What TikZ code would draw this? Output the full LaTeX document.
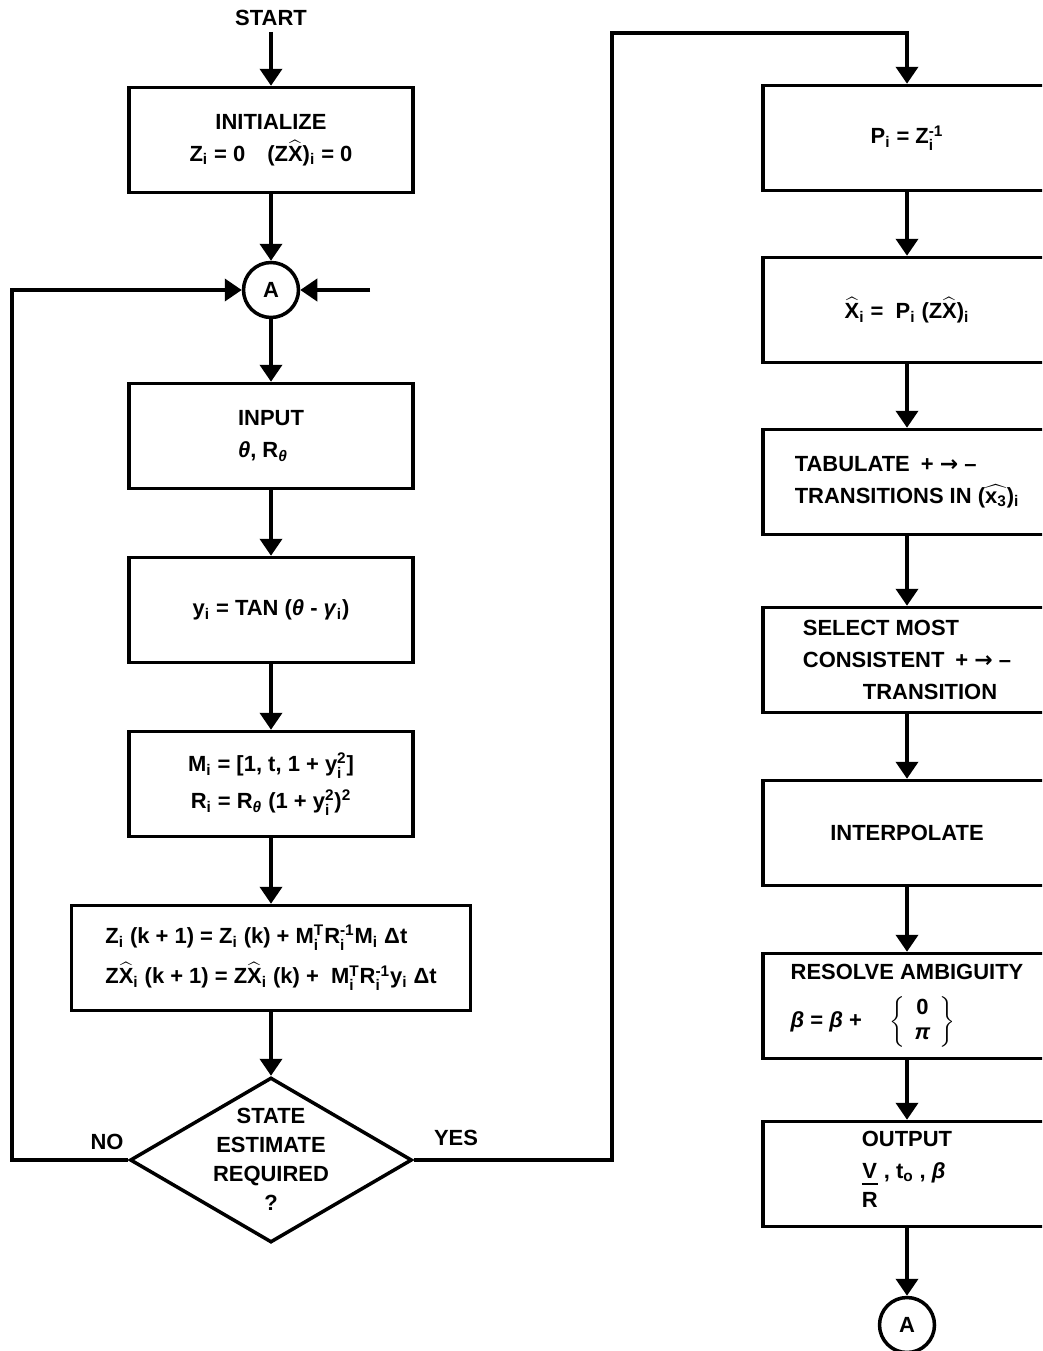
\documentclass[tikz,border=0pt]{standalone}
\usepackage{amsmath}
\usepackage{fontspec}
\setmainfont{Liberation Sans}
\newfontfamily\symfont{DejaVu Sans}
\usetikzlibrary{arrows.meta, shapes.geometric}

\newcommand{\tx}[1]{\text{#1}}
\newcommand{\flowfont}{\fontsize{12.5}{18}\selectfont\bfseries}
\newcommand{\ra}{{\symfont\bfseries →}}
\setlength{\arrayrulewidth}{1.3pt}

\tikzset{
  box/.style={draw, line width=2pt, minimum width=5.68cm, minimum height=2.1cm, inner sep=2pt, align=center, font=\flowfont},
  rbox/.style={box, minimum width=5.76cm, align=left},
  conn/.style={circle, draw, line width=2pt, minimum size=1.1cm, inner sep=0pt, font=\flowfont},
  decision/.style={diamond, draw, line width=2pt, minimum width=5.64cm, minimum height=3.3cm, inner sep=0pt},
  lbl/.style={font=\flowfont, align=center},
  arr/.style={line width=2.2pt, -{Triangle[length=3.4mm, width=4.4mm]}}
}

\begin{document}
\begin{tikzpicture}[x=0.02cm, y=-0.02cm]
    \useasboundingbox (0,0) rectangle (1042,1351);
    \clip (0,0) rectangle (1042,1351);

    % Left column
    \node[lbl] (start) at (271,18) {START};
    \node[box] (init) at (271,140) {INITIALIZE\\ Z$_\tx{i}$ = 0\quad (Z$\widehat{\tx{X}}$)$_\tx{i}$ = 0};
    \node[conn] (A1) at (271,290) {A};
    \node[box, align=left] (input) at (271,436) {INPUT\\ \textit{θ}, R$_\tx{\textit{θ}}$};
    \node[box] (tan) at (271,610) {y$_\tx{i}$ = TAN (\textit{θ} - \textit{γ}$_\tx{i}$)};
    \node[box] (meas) at (271,784) {M$_\tx{i}$ = [1, t, 1 + y$_\tx{i}^\tx{2}$]\\[3pt] R$_\tx{i}$ = R$_\tx{\textit{θ}}$ (1 + y$_\tx{i}^\tx{2}$)$^\tx{2}$};
    \node[box, minimum width=7.98cm, align=left] (upd) at (271,958) {Z$_\tx{i}$ (k + 1) = Z$_\tx{i}$ (k) + M$_\tx{i}^\tx{T}$R$_\tx{i}^\tx{-1}$M$_\tx{i}$ Δt\\[5pt] Z$\widehat{\tx{X}}_\tx{i}$ (k + 1) = Z$\widehat{\tx{X}}_\tx{i}$ (k) + \ M$_\tx{i}^\tx{T}$R$_\tx{i}^\tx{-1}$y$_\tx{i}$ Δt};

    % Decision
    \node[decision] (dec) at (271,1160) {};
    \node[lbl, font=\fontsize{12.5}{16.5}\selectfont\bfseries] (dectxt) at (271,1159) {STATE\\ ESTIMATE\\ REQUIRED\\ ?};
    \node[lbl] (no) at (107,1142) {NO};
    \node[lbl] (yes) at (456,1138) {YES};

    % Loop corners
    \coordinate (nocorner) at (12,1160);
    \coordinate (ain) at (370,290);
    \coordinate (yestop) at (612,33);

    % Right column
    \node[rbox, align=center] (pinv) at (907,138) {P$_\tx{i}$ = Z$_\tx{i}^\tx{-1}$};
    \node[rbox, align=center] (xhat) at (907,310) {$\widehat{\tx{X}}_\tx{i}$ = \ P$_\tx{i}$ (Z$\widehat{\tx{X}}$)$_\tx{i}$};
    \node[rbox] (tab) at (907,482) {TABULATE\enspace + \ra\ –\\ TRANSITIONS IN ($\widehat{\tx{x}_\tx{3}}$)$_\tx{i}$};
    \node[rbox] (sel) at (907,660) {SELECT MOST\\ CONSISTENT\enspace + \ra\ –\\ \hspace*{1.2cm}TRANSITION};
    \node[rbox, align=center] (interp) at (907,833) {INTERPOLATE};
    \node[rbox] (res) at (907,1006) {RESOLVE AMBIGUITY\\[9pt] \textit{β} = \textit{β} + \quad $\renewcommand{\arraystretch}{0.8}\left\{\begin{array}{c}\tx{0}\\ \tx{\textit{π}}\end{array}\right\}$};
    \node[rbox] (out) at (907,1174) {OUTPUT\\ \begin{tabular}[t]{@{}c@{}}V\\[-3pt]\hline\rule{0pt}{12pt}R\end{tabular} , t$_\tx{o}$ , \textit{β}};
    \node[conn] (A2) at (907,1325) {A};

    % Left connectors
    \draw[arr] (start) -- (init);
    \draw[arr] (init) -- (A1);
    \draw[arr] (A1) -- (input);
    \draw[arr] (input) -- (tan);
    \draw[arr] (tan) -- (meas);
    \draw[arr] (meas) -- (upd);
    \draw[arr] (upd) -- (dec);
    \draw[arr] (dec.west) -- (nocorner) |- (A1);
    \draw[arr] (ain) -- (A1);

    % YES branch to right column
    \draw[arr] (dec.east) -| (yestop) -| (pinv);
    \draw[arr] (pinv) -- (xhat);
    \draw[arr] (xhat) -- (tab);
    \draw[arr] (tab) -- (sel);
    \draw[arr] (sel) -- (interp);
    \draw[arr] (interp) -- (res);
    \draw[arr] (res) -- (out);
    \draw[arr] (out) -- (A2);
\end{tikzpicture}
\end{document}
